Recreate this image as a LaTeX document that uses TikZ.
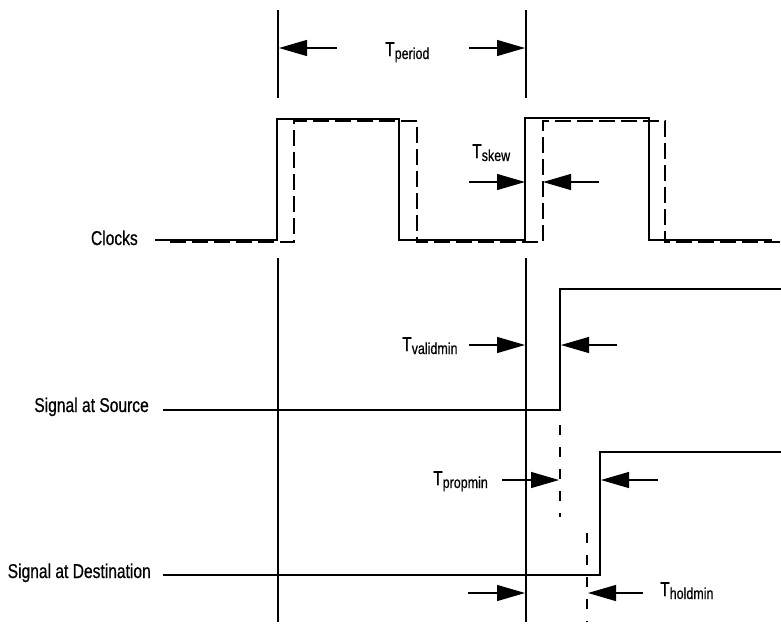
\documentclass[tikz,border=0pt]{standalone}
\usepackage{fontspec}
\setmainfont{Liberation Sans}[FakeStretch=0.78,FakeBold=0.6]
\usetikzlibrary{arrows.meta}
\newcommand\tlab[1]{T{\fontsize{16}{16}\selectfont\raisebox{-3pt}{#1}}}
\begin{document}
\begin{tikzpicture}[x=1pt,y=-1pt,
  wave/.style={line width=1.3pt,line join=miter},
  dwave/.style={line width=1.3pt,dash pattern=on 16pt off 6pt},
  vdash/.style={line width=1.3pt,dash pattern=on 10pt off 12pt},
  ref/.style={line width=1.2pt},
  dim/.style={line width=1.2pt,-{Triangle[length=28pt,width=16pt]}},
  lab/.style={inner sep=0pt,font=\fontsize{20}{22}\selectfont},
]
\useasboundingbox (0,0) rectangle (781,624);
% reference lines
\coordinate (A1) at (278,10);  \coordinate (A2) at (278,98);
\coordinate (B1) at (526,10);  \coordinate (B2) at (526,98);
\coordinate (A3) at (278,258); \coordinate (A4) at (278,622);
\coordinate (B3) at (526,258); \coordinate (B4) at (526,622);
\draw[ref] (A1) -- (A2);
\draw[ref] (B1) -- (B2);
\draw[ref] (A3) -- (A4);
\draw[ref] (B3) -- (B4);
% period arrows
\coordinate (p1) at (337,48); \coordinate (p1t) at (279,48);
\coordinate (p2) at (469,48); \coordinate (p2t) at (525,48);
\draw[dim] (p1) -- (p1t);
\draw[dim] (p2) -- (p2t);
\node[lab,anchor=base west] (tper) at (385,56) {\tlab{period}};
% clocks
\draw[wave] (155,240) -- (277,240) -- (277,119) -- (399,119) -- (399,240)
  -- (525,240) -- (525,118) -- (649,118) -- (649,240) -- (772,240);
\draw[dwave] (170,242) -- (294,242) -- (294,121) -- (417,121) -- (417,242)
  -- (543,242) -- (543,121) -- (665,121) -- (665,242) -- (781,242);
\node[lab,anchor=base east] (clk) at (138,245) {Clocks};
% skew
\coordinate (s1) at (469,182); \coordinate (s1t) at (525,182);
\coordinate (s2) at (599,182); \coordinate (s2t) at (543,182);
\draw[dim] (s1) -- (s1t);
\draw[dim] (s2) -- (s2t);
\node[lab,anchor=base west] (tskew) at (472,158) {\tlab{skew}};
% source
\draw[wave] (163,410) -- (560,410) -- (560,289) -- (781,289);
\node[lab,anchor=base east] (src) at (149,412) {Signal at Source};
\coordinate (v1) at (469,345); \coordinate (v1t) at (525,345);
\coordinate (v2) at (617,345); \coordinate (v2t) at (561,345);
\draw[dim] (v1) -- (v1t);
\draw[dim] (v2) -- (v2t);
\node[lab,anchor=base west] (tval) at (402,351) {\tlab{validmin}};
% destination
\draw[wave] (163,575) -- (600,575) -- (600,452) -- (781,452);
\node[lab,anchor=base east] (dst) at (151,578) {Signal at Destination};
\coordinate (d1) at (560,425); \coordinate (d2) at (560,517);
\draw[vdash] (d1) -- (d2);
\coordinate (e1) at (587,533); \coordinate (e2) at (587,622);
\draw[vdash] (e1) -- (e2);
\coordinate (r1) at (502,480); \coordinate (r1t) at (559,480);
\coordinate (r2) at (658,480); \coordinate (r2t) at (601,480);
\draw[dim] (r1) -- (r1t);
\draw[dim] (r2) -- (r2t);
\node[lab,anchor=base west] (tprop) at (433,485) {\tlab{propmin}};
\coordinate (h1) at (468,593); \coordinate (h1t) at (525,593);
\coordinate (h2) at (643,593); \coordinate (h2t) at (588,593);
\draw[dim] (h1) -- (h1t);
\draw[dim] (h2) -- (h2t);
\node[lab,anchor=base west] (thold) at (660,596) {\tlab{holdmin}};
\end{tikzpicture}
\end{document}
